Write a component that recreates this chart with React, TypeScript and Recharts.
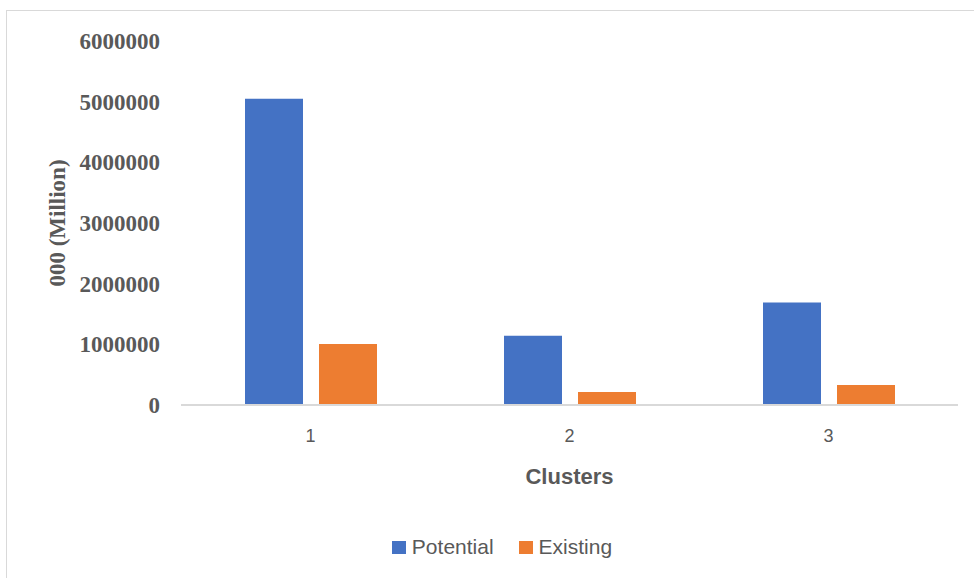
import React from 'react';
import { BarChart, Bar, XAxis, YAxis, Legend } from 'recharts';

const clusters = ['1', '2', '3'];
const potential = [5050000, 1140000, 1690000];
const existing = [1005000, 215000, 330000];
const yTicks = [0, 1000000, 2000000, 3000000, 4000000, 5000000, 6000000];
const seriesOrder = ['Potential', 'Existing'];

const chartData = clusters.map((c, i) => ({
  cluster: c,
  Potential: potential[i],
  Existing: existing[i],
}));

const textGray = '#595959';
const sans = '"Liberation Sans", Arial, sans-serif';
const serif = '"Liberation Serif", "Times New Roman", serif';

const renderLegend = (props: any) => {
  const payload = [...(props.payload || [])].sort(
    (a: any, b: any) => seriesOrder.indexOf(a.value) - seriesOrder.indexOf(b.value)
  );
  return (
    <div
      style={{
        display: 'flex',
        justifyContent: 'center',
        paddingLeft: 46,
        fontFamily: sans,
        fontSize: 21,
        color: textGray,
      }}
    >
      {payload.map((entry: any, i: number) => (
        <div key={entry.value} style={{ display: 'flex', alignItems: 'center', marginLeft: i === 0 ? 0 : 25 }}>
          <span style={{ display: 'inline-block', width: 14, height: 13, background: entry.color, marginRight: 6 }} />
          <span>{entry.value}</span>
        </div>
      ))}
    </div>
  );
};

export default function App() {
  return (
    <div style={{ position: 'absolute', left: 0, top: 0, width: 974, height: 578, overflow: 'hidden', background: '#fff' }}>
      <div
        style={{
          position: 'absolute',
          left: 6,
          top: 10,
          width: 1000,
          height: 600,
          border: '1px solid #d9d9d9',
          boxSizing: 'border-box',
        }}
      />
      <div style={{ position: 'absolute', left: 0, top: 0 }}>
        <BarChart
          width={974}
          height={578}
          data={chartData}
          margin={{ top: 41, right: 16, bottom: 19, left: 0 }}
          barSize={58}
          barGap={16}
        >
          <XAxis
            dataKey="cluster"
            height={130}
            axisLine={{ stroke: '#d9d9d9', strokeWidth: 2 }}
            tickLine={false}
            tickMargin={18}
            tick={{ fill: textGray, fontSize: 18, fontFamily: sans }}
            label={{
              value: 'Clusters',
              position: 'insideTop',
              offset: 63,
              style: { fill: textGray, fontSize: 22, fontWeight: 700, fontFamily: sans },
            }}
          />
          <YAxis
            width={181}
            domain={[0, 6000000]}
            ticks={yTicks}
            axisLine={false}
            tickLine={false}
            tickMargin={15}
            interval={0}
            tick={{ fill: textGray, fontSize: 23, fontWeight: 700, fontFamily: serif }}
            label={{
              value: '000 (Million)',
              angle: -90,
              position: 'insideLeft',
              offset: 57,
              style: { fill: textGray, fontSize: 23, fontWeight: 700, fontFamily: serif, textAnchor: 'middle' },
            }}
          />
          <Legend verticalAlign="bottom" content={renderLegend} />
          <Bar dataKey="Potential" fill="#4472c4" isAnimationActive={false} />
          <Bar dataKey="Existing" fill="#ed7d31" isAnimationActive={false} />
        </BarChart>
      </div>
    </div>
  );
}
